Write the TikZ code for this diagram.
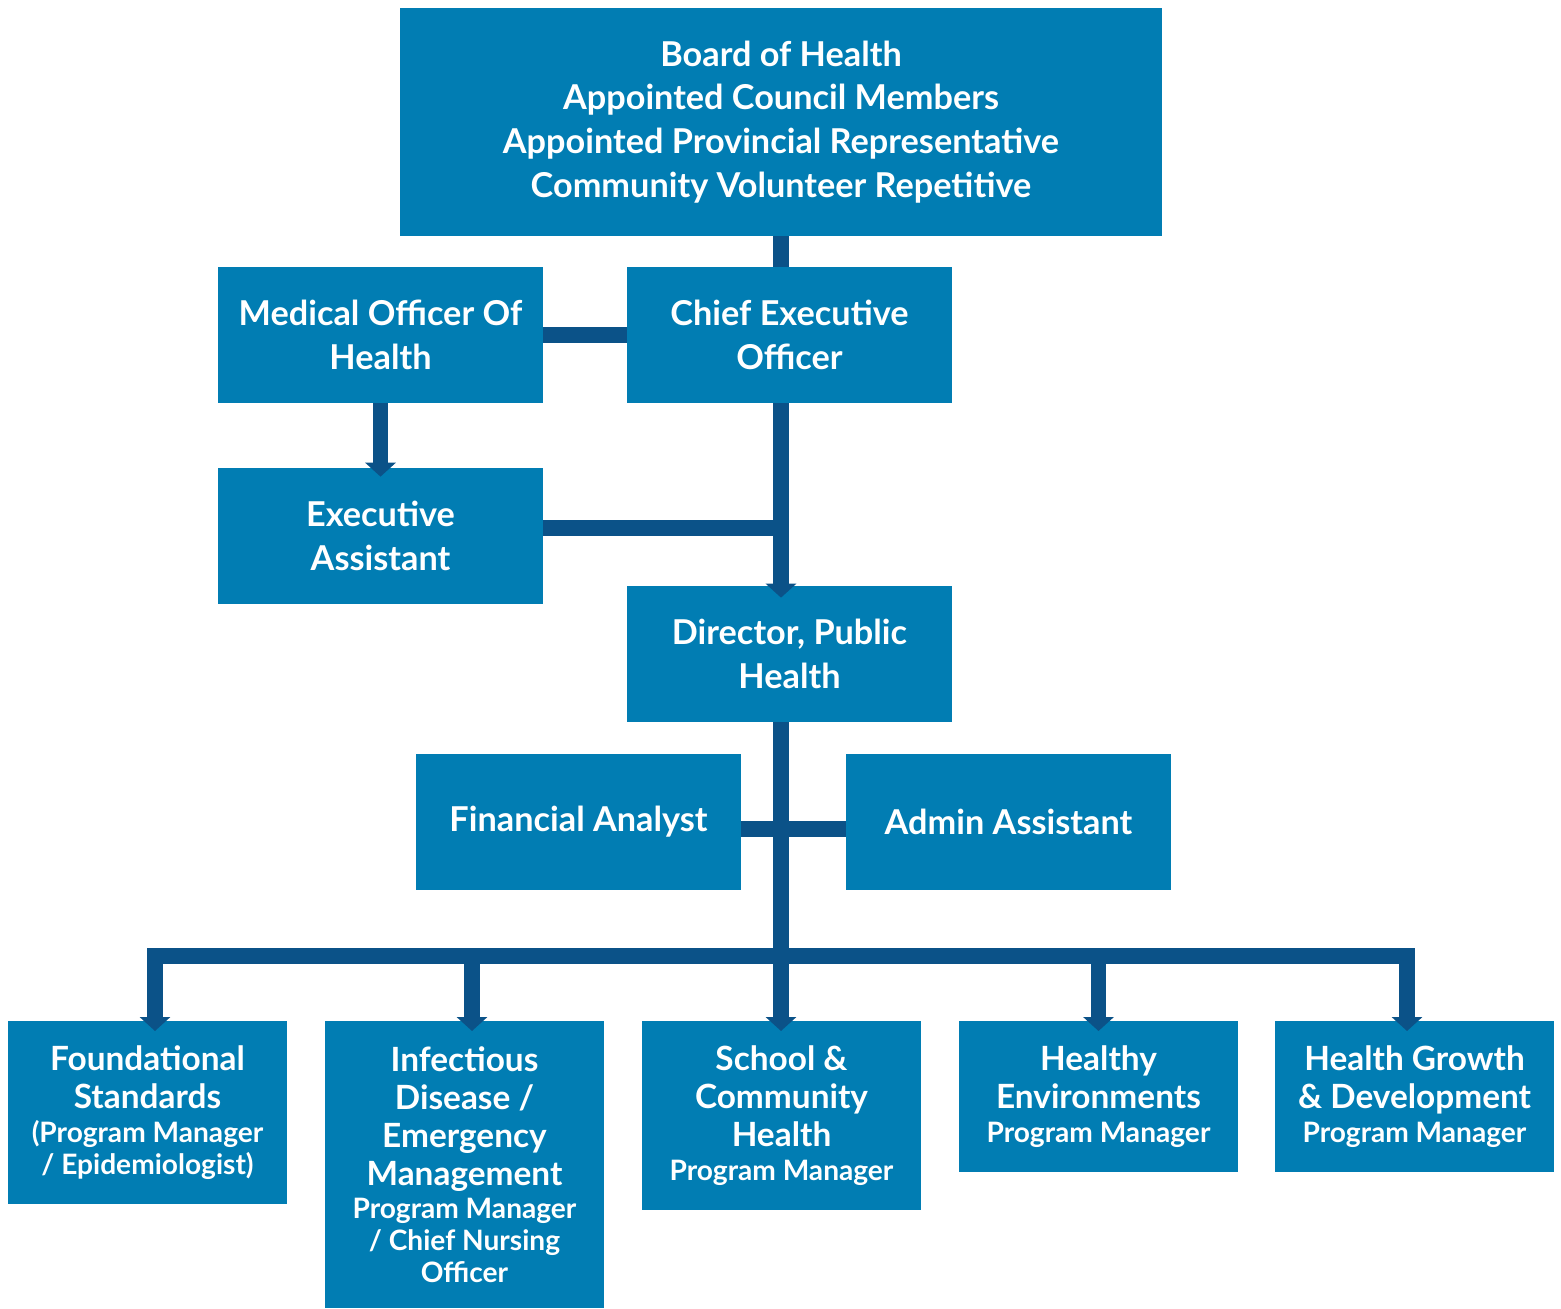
\documentclass[tikz,border=0pt]{standalone}
\usepackage{fontspec}
\setmainfont{Lato}
\usetikzlibrary{arrows.meta}
\definecolor{boxblue}{RGB}{1,125,179}
\definecolor{linkblue}{RGB}{11,82,136}
\newcommand\subfont{\fontsize{16}{18.1}\selectfont}

\begin{document}
\begin{tikzpicture}[x=0.02cm, y=-0.02cm,
  box/.style={fill=boxblue, text=white, align=center, inner sep=0pt,
    font=\bfseries\fontsize{19.5}{24.9}\selectfont},
  post/.style={box, minimum width=6.5cm, minimum height=2.72cm},
  unit/.style={box, anchor=north, minimum width=5.58cm,
    font=\bfseries\fontsize{19}{21.5}\selectfont},
  link/.style={draw=linkblue, line width=9pt},
  arr/.style={link, -{Triangle[width=0.6cm, length=0.28cm]}}]
\useasboundingbox (0,0) rectangle (1561,1308); % размер как у картинки

% верхний уровень
\node[box, minimum width=15.24cm, minimum height=4.56cm] (board) at (781,122)
  {Board of Health\\Appointed Council Members\\Appointed Provincial Representative\\Community Volunteer Repetitive};
\node[post] (mooh) at (380.5,335) {Medical Officer Of\\Health};
\node[post] (ceo) at (789.5,335) {Chief Executive\\Officer};
\node[post] (ea) at (380.5,536) {Executive\\Assistant};
\node[post] (dir) at (789.5,654) {Director, Public\\Health};
\node[post] (fa) at (578.5,822) {Financial Analyst};
\node[post] (aa) at (1008.5,822) {Admin Assistant};

% программы
\node[unit, minimum height=3.66cm] (fs) at (147.5,1021)
  {Foundational\\Standards\\[-2.2pt]\subfont(Program Manager\\[-3.4pt]\subfont/ Epidemiologist)};
\node[unit, minimum height=5.74cm] (id) at (464.5,1021)
  {Infectious\\Disease /\\Emergency\\Management\\[-2.2pt]\subfont Program Manager\\[-3.4pt]\subfont/ Chief Nursing\\[-3.4pt]\subfont Officer};
\node[unit, minimum height=3.78cm] (sch) at (781.5,1021)
  {School \&\\Community\\Health\\[-2.2pt]\subfont Program Manager};
\node[unit, minimum height=3.02cm] (he) at (1098.5,1021)
  {Healthy\\Environments\\[-2.2pt]\subfont Program Manager};
\node[unit, minimum height=3.02cm] (hg) at (1414.5,1021)
  {Health Growth\\\& Development\\[-2.2pt]\subfont Program Manager};

% связи
\draw[link] (board.south) -- (board.south |- ceo.north);
\draw[link] (mooh.east) -- (ceo.west);
\draw[arr] (mooh.south) -- ([yshift=-0.18cm]ea.north);
\draw[link] ([yshift=0.16cm]ea.east) -- ([yshift=0.16cm]ea.east -| board.south);
\draw[arr] (ceo.south -| board.south) -- ([yshift=-0.24cm]dir.north -| board.south);
\draw[link] ([yshift=-0.14cm]fa.east) -- ([yshift=-0.14cm]aa.west);
\draw[arr] (dir.south -| board.south) -- ([yshift=-0.2cm]sch.north -| board.south);

\coordinate (bus) at (781,956); % общая шина
\foreach \n/\dx in {fs/0.15, id/0.15, he/0, hg/-0.15}
  \coordinate (\n-top) at ([xshift=\dx cm]\n.north);
\draw[link, line cap=rect] (fs-top |- bus) -- (hg-top |- bus);
\foreach \n in {fs, id, he, hg}
  \draw[arr] (\n-top |- bus) -- ([yshift=-0.2cm]\n-top);
\end{tikzpicture}
\end{document}
